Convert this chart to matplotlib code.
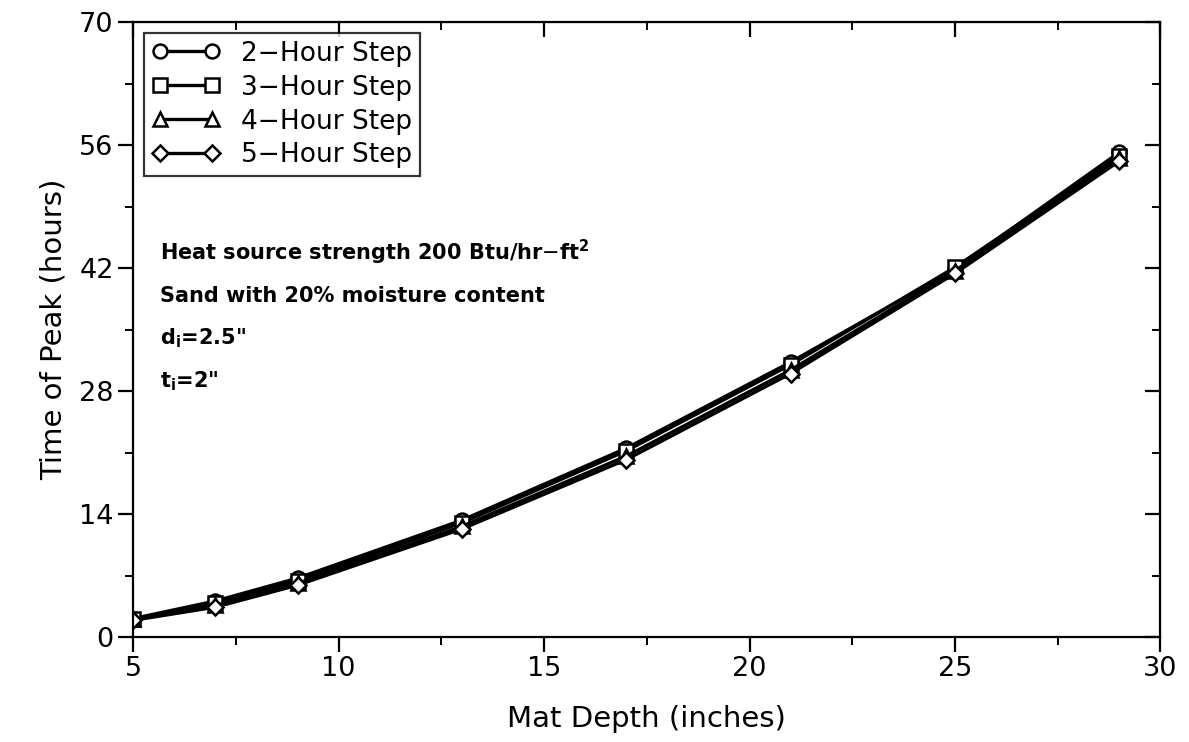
import numpy as np
import matplotlib.pyplot as plt
from matplotlib.ticker import MultipleLocator

# 数据：垫层深度 vs 峰值时间
depth = [5, 7, 9, 13, 17, 21, 25, 29]
step2 = [2.1, 4.1, 6.7, 13.3, 21.5, 31.3, 41.9, 55.2]
step3 = [2.0, 3.9, 6.4, 13.0, 21.2, 31.0, 42.1, 54.8]
step4 = [2.0, 3.6, 6.1, 12.6, 20.6, 30.4, 41.7, 54.5]
step5 = [1.9, 3.4, 5.9, 12.3, 20.2, 30.0, 41.4, 54.2]

labels = ['2\u2212Hour Step', '3\u2212Hour Step', '4\u2212Hour Step', '5\u2212Hour Step']
markers = ['o', 's', '^', 'D']

notes = [r'Heat source strength 200 Btu/hr$-$ft$^\mathregular{2}$',
         'Sand with 20% moisture content',
         r'd$_\mathregular{i}$=2.5"',
         r't$_\mathregular{i}$=2"']

plt.rcParams['font.family'] = ['DejaVu Sans']

fig = plt.figure(figsize=(11.89, 7.42), dpi=100)
ax = fig.add_axes([0.112, 0.1415, 0.864, 0.8285])

for ys, lab, mk in zip([step2, step3, step4, step5], labels, markers):
    ms = 10 if mk != 'D' else 8
    ax.plot(depth, ys, color='black', lw=2.4, marker=mk, ms=ms,
            mfc='white', mec='black', mew=1.8, label=lab)

ax.set_xlim(5, 30)
ax.set_ylim(0, 70)
ax.xaxis.set_major_locator(MultipleLocator(5))
ax.xaxis.set_minor_locator(MultipleLocator(2.5))
ax.yaxis.set_major_locator(MultipleLocator(14))
ax.yaxis.set_minor_locator(MultipleLocator(7))

for sp in ax.spines.values():
    sp.set_linewidth(1.6)

ax.tick_params(which='major', direction='out', length=11, width=1.6,
               labelsize=19.5, pad=3)
ax.tick_params(which='minor', direction='out', length=6, width=1.4)

# 上边和右边的刻度朝内
top = ax.secondary_xaxis('top')
top.xaxis.set_major_locator(MultipleLocator(5))
top.xaxis.set_minor_locator(MultipleLocator(2.5))
top.tick_params(which='major', direction='in', length=11, width=1.6, labeltop=False)
top.tick_params(which='minor', direction='in', length=6, width=1.4)
right = ax.secondary_yaxis('right')
right.yaxis.set_major_locator(MultipleLocator(14))
right.yaxis.set_minor_locator(MultipleLocator(7))
right.tick_params(which='major', direction='in', length=11, width=1.6, labelright=False)
right.tick_params(which='minor', direction='in', length=6, width=1.4)

ax.set_xlabel('Mat Depth (inches)', fontsize=21, labelpad=16)
ax.set_ylabel('Time of Peak (hours)', fontsize=21, labelpad=8)

leg = ax.legend(loc='upper left', fontsize=19, numpoints=2, handlelength=2.6,
                frameon=True, fancybox=False, borderaxespad=0.4,
                labelspacing=0.3, handletextpad=0.8, borderpad=0.3)
leg.get_frame().set_edgecolor('black')
leg.get_frame().set_linewidth(1.6)

note_y = [43.8, 38.8, 34.0, 29.1]
for txt, y in zip(notes, note_y):
    ax.text(5.65, y, txt, fontsize=15, fontweight='bold', va='center', ha='left')

fig.savefig('out.png', dpi=100)
